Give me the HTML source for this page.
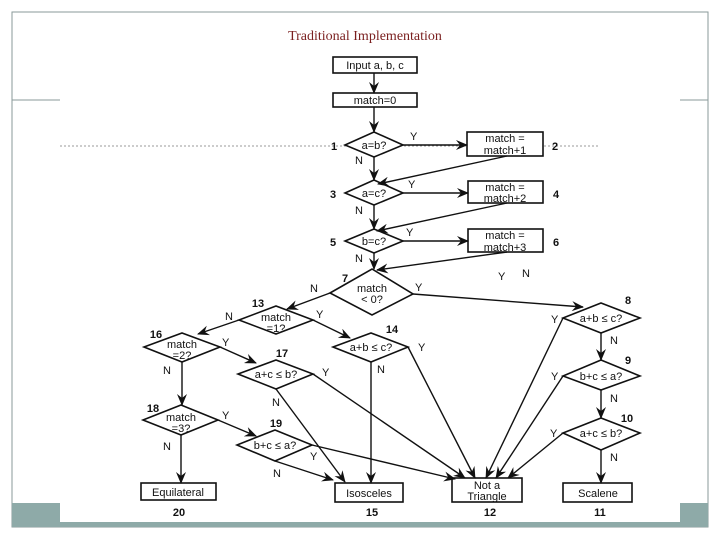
<!DOCTYPE html>
<html><head><meta charset="utf-8"><style>
body{margin:0;background:#fff}
svg{display:block}
text{font-family:"Liberation Sans",Arial,sans-serif;font-size:11px;fill:#111}
.b{font-weight:bold}
</style></head><body>
<svg width="720" height="540" viewBox="0 0 720 540" xmlns="http://www.w3.org/2000/svg">
<defs>
<marker id="a" markerWidth="12" markerHeight="10" refX="11" refY="5" orient="auto" markerUnits="userSpaceOnUse">
<path d="M0,0 L12,5 L0,10 L4,5 z" fill="#111"/></marker>
</defs>
<!-- frame -->
<rect x="12" y="12" width="696" height="515" fill="none" stroke="#8a9a9a" stroke-width="1"/>
<line x1="12" y1="100" x2="60" y2="100" stroke="#8a9a9a"/>
<line x1="680" y1="100" x2="708" y2="100" stroke="#8a9a9a"/>
<rect x="12" y="503" width="696" height="24" fill="#8eaaa8"/>
<rect x="60" y="503" width="620" height="19" fill="#fff"/>
<text x="365" y="40" text-anchor="middle" style="font-family:'Liberation Serif',serif;font-size:14px;fill:#7a1f1f">Traditional Implementation</text>
<line x1="60" y1="146" x2="600" y2="146" stroke="#999" stroke-width="1" stroke-dasharray="2,2"/>

<g stroke="#111" stroke-width="1.6" fill="#fff">
<rect x="333" y="57" width="84" height="16"/>
<rect x="333" y="93" width="84" height="14"/>
<polygon points="345,145 374,132 403,145 374,157"/>
<rect x="467" y="132" width="76" height="24"/>
<polygon points="345,193 374,180 403,193 374,205"/>
<rect x="468" y="181" width="75" height="22"/>
<polygon points="345,241 374,229 403,241 374,253"/>
<rect x="468" y="229" width="75" height="23"/>
<polygon points="330,293 372,269 413,294 372,315"/>
<polygon points="239,320 276,306 313,320 276,334"/>
<polygon points="144,347 182,333 220,347 182,362"/>
<polygon points="333,347 371,333 408,347 371,362"/>
<polygon points="238,374 276,360 313,374 276,389"/>
<polygon points="143,420 181,405 218,420 181,435"/>
<polygon points="237,445 275,430 312,445 275,461"/>
<polygon points="563,318 601,303 640,318 601,333"/>
<polygon points="563,376 601,360 640,376 601,390"/>
<polygon points="563,433 601,418 640,433 601,450"/>
<rect x="141" y="483" width="75" height="17"/>
<rect x="335" y="483" width="68" height="19"/>
<rect x="452" y="478" width="70" height="24"/>
<rect x="563" y="483" width="69" height="19"/>
</g>

<g stroke="#111" stroke-width="1.4" fill="none" marker-end="url(#a)">
<line x1="374" y1="73" x2="374" y2="93"/>
<line x1="374" y1="107" x2="374" y2="132"/>
<line x1="403" y1="145" x2="467" y2="145"/>
<line x1="374" y1="157" x2="374" y2="180"/>
<line x1="507" y1="156" x2="378" y2="184"/>
<line x1="403" y1="193" x2="468" y2="193"/>
<line x1="374" y1="205" x2="374" y2="229"/>
<line x1="507" y1="203" x2="377" y2="231"/>
<line x1="403" y1="241" x2="468" y2="241"/>
<line x1="374" y1="253" x2="374" y2="269"/>
<line x1="507" y1="252" x2="377" y2="270"/>
<line x1="330" y1="293" x2="287" y2="309"/>
<line x1="413" y1="294" x2="583" y2="307"/>
<line x1="239" y1="320" x2="198" y2="334"/>
<line x1="313" y1="320" x2="350" y2="338"/>
<line x1="220" y1="347" x2="256" y2="363"/>
<line x1="182" y1="362" x2="182" y2="405"/>
<line x1="218" y1="420" x2="256" y2="436"/>
<line x1="181" y1="435" x2="181" y2="483"/>
<line x1="276" y1="389" x2="345" y2="482"/>
<line x1="275" y1="461" x2="333" y2="480"/>
<line x1="371" y1="362" x2="371" y2="483"/>
<line x1="408" y1="347" x2="475" y2="478"/>
<line x1="313" y1="374" x2="465" y2="478"/>
<line x1="312" y1="445" x2="455" y2="479"/>
<line x1="563" y1="318" x2="486" y2="478"/>
<line x1="563" y1="376" x2="496" y2="478"/>
<line x1="563" y1="433" x2="508" y2="478"/>
<line x1="601" y1="333" x2="601" y2="360"/>
<line x1="601" y1="390" x2="601" y2="418"/>
<line x1="601" y1="450" x2="601" y2="483"/>
</g>

<g text-anchor="middle">
<text x="375" y="69">Input a, b, c</text>
<text x="375" y="104">match=0</text>
<text x="374" y="149">a=b?</text>
<text x="505" y="142">match =</text><text x="505" y="154">match+1</text>
<text x="374" y="197">a=c?</text>
<text x="505" y="191">match =</text><text x="505" y="202">match+2</text>
<text x="374" y="245">b=c?</text>
<text x="505" y="239">match =</text><text x="505" y="251">match+3</text>
<text x="372" y="292">match</text><text x="372" y="303">&lt; 0?</text>
<text x="276" y="321">match</text><text x="276" y="332">=1?</text>
<text x="182" y="348">match</text><text x="182" y="359">=2?</text>
<text x="371" y="351">a+b ≤ c?</text>
<text x="276" y="378">a+c ≤ b?</text>
<text x="181" y="421">match</text><text x="181" y="432">=3?</text>
<text x="275" y="449">b+c ≤ a?</text>
<text x="601" y="322">a+b ≤ c?</text>
<text x="601" y="380">b+c ≤ a?</text>
<text x="601" y="437">a+c ≤ b?</text>
<text x="178" y="496">Equilateral</text>
<text x="369" y="497">Isosceles</text>
<text x="487" y="489">Not a</text><text x="487" y="500">Triangle</text>
<text x="598" y="497">Scalene</text>
</g>
<g class="b" text-anchor="middle" style="font-size:11px">
<text x="334" y="150" class="b">1</text><text x="333" y="198" class="b">3</text><text x="333" y="246" class="b">5</text>
<text x="555" y="150" class="b">2</text><text x="556" y="198" class="b">4</text><text x="556" y="246" class="b">6</text>
<text x="345" y="282" class="b">7</text><text x="258" y="307" class="b">13</text><text x="156" y="338" class="b">16</text>
<text x="392" y="333" class="b">14</text><text x="282" y="357" class="b">17</text><text x="153" y="412" class="b">18</text>
<text x="276" y="427" class="b">19</text><text x="628" y="304" class="b">8</text><text x="628" y="364" class="b">9</text>
<text x="627" y="422" class="b">10</text>
<text x="179" y="516" class="b">20</text><text x="372" y="516" class="b">15</text><text x="490" y="516" class="b">12</text><text x="600" y="516" class="b">11</text>
</g>
<g style="font-size:11px">
<text x="410" y="140">Y</text><text x="408" y="188">Y</text><text x="406" y="236">Y</text>
<text x="355" y="164">N</text><text x="355" y="214">N</text><text x="355" y="262">N</text>
<text x="415" y="291">Y</text><text x="310" y="292">N</text>
<text x="498" y="280">Y</text><text x="522" y="277">N</text>
<text x="316" y="318">Y</text><text x="225" y="320">N</text>
<text x="222" y="346">Y</text><text x="163" y="374">N</text>
<text x="418" y="351">Y</text><text x="377" y="373">N</text>
<text x="322" y="376">Y</text><text x="272" y="406">N</text>
<text x="222" y="419">Y</text><text x="163" y="450">N</text>
<text x="310" y="460">Y</text><text x="273" y="477">N</text>
<text x="551" y="323">Y</text><text x="610" y="344">N</text>
<text x="551" y="380">Y</text><text x="610" y="402">N</text>
<text x="550" y="437">Y</text><text x="610" y="461">N</text>
</g>
</svg>
</body></html>
